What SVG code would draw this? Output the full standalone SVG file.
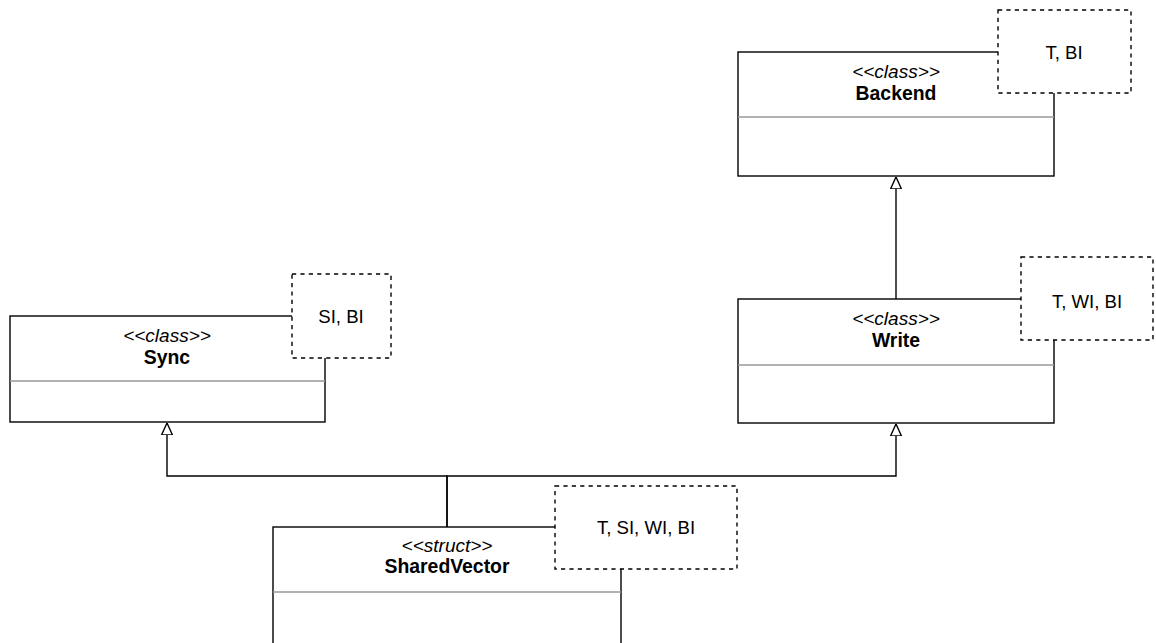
<svg xmlns="http://www.w3.org/2000/svg" width="1156" height="643" viewBox="0 0 1156 643">
<defs>
<marker id="tri" viewBox="0 0 12 12" refX="12" refY="6" markerWidth="12" markerHeight="12" markerUnits="userSpaceOnUse" orient="auto">
<path d="M0,0.5 L12,6 L0,11.5 Z" fill="#fff" stroke="#000" stroke-width="1.4"/>
</marker>
<style>
.box{fill:#fff;stroke:#000;stroke-width:1.4}
.sep{stroke:#999;stroke-width:1.4}
.tpl{fill:#fff;stroke:#000;stroke-width:1.4;stroke-dasharray:4.2 4.2}
.st{font-family:"Liberation Sans",Arial,sans-serif;font-size:19px;font-style:italic;text-anchor:middle;fill:#000}
.nm{font-family:"Liberation Sans",Arial,sans-serif;font-size:19.4px;font-weight:bold;text-anchor:middle;fill:#000}
.tt{font-family:"Liberation Sans",Arial,sans-serif;font-size:18.6px;text-anchor:middle;fill:#000}
.edge{fill:none;stroke:#000;stroke-width:1.4}
</style>
</defs>
<rect width="1156" height="643" fill="#fff"/>
<g id="connectors">
<path class="edge" d="M896,299 L896,177" marker-end="url(#tri)"/>
<path class="edge" d="M447,527 L447,476 L167,476 L167,423" marker-end="url(#tri)"/>
<path class="edge" d="M447,527 L447,476 L896,476 L896,424" marker-end="url(#tri)"/>
</g>
<g id="backend">
<rect class="box" x="738" y="52" width="316" height="124"/>
<line class="sep" x1="738" y1="117" x2="1054" y2="117"/>
<text class="st" x="896" y="78">&lt;&lt;class&gt;&gt;</text>
<text class="nm" x="896" y="99.5">Backend</text>
<rect class="tpl" x="998" y="10" width="133" height="83"/>
<text class="tt" x="1064" y="59">T, BI</text>
</g>
<g id="sync">
<rect class="box" x="10" y="316" width="315" height="106"/>
<line class="sep" x1="10" y1="381" x2="325" y2="381"/>
<text class="st" x="167" y="342">&lt;&lt;class&gt;&gt;</text>
<text class="nm" x="167" y="364">Sync</text>
<rect class="tpl" x="292" y="274" width="99" height="84"/>
<text class="tt" x="341" y="323">SI, BI</text>
</g>
<g id="write">
<rect class="box" x="738" y="299" width="316" height="124"/>
<line class="sep" x1="738" y1="365" x2="1054" y2="365"/>
<text class="st" x="896" y="325">&lt;&lt;class&gt;&gt;</text>
<text class="nm" x="896" y="347">Write</text>
<rect class="tpl" x="1021" y="257" width="132" height="83"/>
<text class="tt" x="1087" y="308">T, WI, BI</text>
</g>
<g id="sharedvector">
<rect class="box" x="273" y="527" width="348" height="140"/>
<line class="sep" x1="273" y1="592" x2="621" y2="592"/>
<text class="st" x="447" y="552">&lt;&lt;struct&gt;&gt;</text>
<text class="nm" x="447" y="573">SharedVector</text>
<rect class="tpl" x="555" y="486" width="182" height="83"/>
<text class="tt" x="646" y="534">T, SI, WI, BI</text>
</g>
</svg>
